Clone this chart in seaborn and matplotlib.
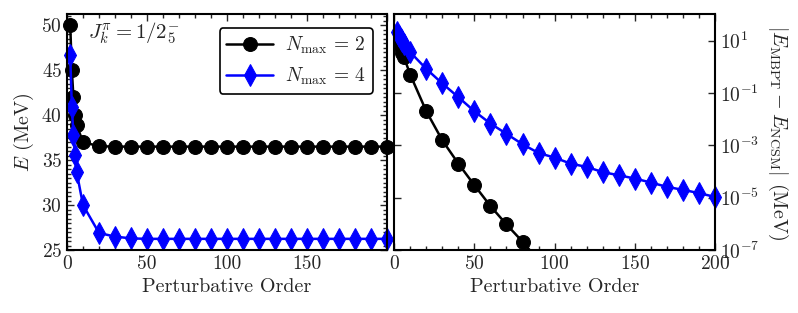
import numpy as np
import pandas as pd
import matplotlib
matplotlib.use('Agg')
import matplotlib.pyplot as plt
import seaborn as sns
from matplotlib.ticker import MultipleLocator, NullLocator, FixedLocator

# perturbative orders
orders = [2, 3, 4, 5, 6, 10, 20, 30, 40, 50, 60, 70, 80, 90, 100, 110, 120,
          130, 140, 150, 160, 170, 180, 190, 200]

# energies (MeV)
e_nmax2 = [50.0, 45.0, 42.0, 40.0, 38.9, 37.0, 36.55, 36.5, 36.5, 36.5, 36.5,
           36.5, 36.5, 36.5, 36.5, 36.5, 36.5, 36.5, 36.5, 36.5, 36.5, 36.5,
           36.5, 36.5, 36.5]
e_nmax4 = [46.7, 40.9, 37.8, 35.6, 33.7, 30.0, 26.9, 26.5, 26.3, 26.25, 26.25,
           26.25, 26.25, 26.25, 26.25, 26.25, 26.25, 26.25, 26.25, 26.25, 26.25,
           26.25, 26.25, 26.25, 26.25]

# |E_MBPT - E_NCSM| (MeV)
orders_d2 = [2, 3, 4, 5, 6, 10, 20, 30, 40, 50, 60, 70, 80, 90]
diff_nmax2 = [13.5, 8.5, 5.5, 3.5, 2.4, 0.5, 2.0e-2, 1.55e-3, 2.0e-4, 3.0e-5,
              4.8e-6, 9.5e-7, 2.1e-7, 4.0e-8]
diff_nmax4 = [20.7, 14.9, 11.8, 9.6, 7.7, 3.6, 0.83, 0.23, 6.9e-2, 2.0e-2,
              6.8e-3, 2.75e-3, 1.1e-3, 5.1e-4, 3.4e-4, 2.0e-4, 1.5e-4, 9.5e-5,
              7.2e-5, 5.4e-5, 3.8e-5, 2.6e-5, 2.0e-5, 1.5e-5, 1.07e-5]

sns.set_style("ticks")
plt.rcParams['font.family'] = ['serif']
plt.rcParams['font.serif'] = ['cmr10', 'DejaVu Serif']
plt.rcParams['mathtext.fontset'] = 'cm'
plt.rcParams['axes.formatter.use_mathtext'] = True
plt.rcParams['font.size'] = 14
plt.rcParams['axes.unicode_minus'] = False

fig = plt.figure(figsize=(7.98, 3.13), dpi=100)
ax1 = fig.add_axes([0.084, 0.201, 0.401, 0.753])
ax2 = fig.add_axes([0.494, 0.201, 0.402, 0.753])

lw = 1.8
df2 = pd.DataFrame({'order': orders, 'E': e_nmax2})
df4 = pd.DataFrame({'order': orders, 'E': e_nmax4})
sns.lineplot(data=df2, x='order', y='E', ax=ax1, color='k', marker='o',
             markersize=10, markeredgecolor='k', linewidth=lw,
             label=r'$N_{\max}\,=\,2$', clip_on=False)
sns.lineplot(data=df4, x='order', y='E', ax=ax1, color='blue', marker='d',
             markersize=11, markeredgecolor='blue', linewidth=lw,
             label=r'$N_{\max}\,=\,4$', clip_on=False)

dd2 = pd.DataFrame({'order': orders_d2, 'd': diff_nmax2})
dd4 = pd.DataFrame({'order': orders, 'd': diff_nmax4})
sns.lineplot(data=dd2, x='order', y='d', ax=ax2, color='k', marker='o',
             markersize=10, markeredgecolor='k', linewidth=lw, legend=False)
sns.lineplot(data=dd4, x='order', y='d', ax=ax2, color='blue', marker='d',
             markersize=11, markeredgecolor='blue', linewidth=lw, legend=False,
             clip_on=False)

# left panel
ax1.set_xlim(0, 200)
ax1.set_ylim(25, 51.2)
ax1.set_xticks([0, 50, 100, 150, 200])
ax1.set_xticklabels(['0', '50', '100', '150', ''])
ax1.xaxis.set_minor_locator(MultipleLocator(10))
ax1.set_yticks([25, 30, 35, 40, 45, 50])
ax1.yaxis.set_minor_locator(MultipleLocator(0.5))
ax1.set_xlabel('Perturbative Order', fontsize=14.5)
ax1.set_ylabel(r'$E$ (MeV)', fontsize=14.5)
ax1.text(0.065, 0.975, r'$J^{\pi}_{k}=1/2^{-}_{5}$', transform=ax1.transAxes,
         ha='left', va='top', fontsize=15)
leg = ax1.legend(loc='upper right', handlelength=2.4, fontsize=14,
                 frameon=True, fancybox=True, borderpad=0.35,
                 handletextpad=0.6, bbox_to_anchor=(0.985, 0.985))
leg.get_frame().set_edgecolor('k')
leg.get_frame().set_linewidth(1.2)
leg.get_frame().set_alpha(1)

# right panel
ax2.set_yscale('log')
ax2.set_xlim(0, 200)
ax2.set_ylim(1e-7, 1e2)
ax2.set_xticks([0, 50, 100, 150, 200])
ax2.xaxis.set_minor_locator(MultipleLocator(10))
ax2.yaxis.set_major_locator(FixedLocator([1e1, 1e-1, 1e-3, 1e-5, 1e-7]))
ax2.yaxis.set_minor_locator(NullLocator())
ax2.set_yticklabels([r'$10^{1}$', r'$10^{-1}$', r'$10^{-3}$', r'$10^{-5}$',
                     r'$10^{-7}$'])
ax2.yaxis.set_label_position('right')
ax2.yaxis.tick_right()
ax2.set_xlabel('Perturbative Order', fontsize=14.5)
ax2.set_ylabel(r'$|E_{\rm MBPT}-E_{\rm NCSM}|$ (MeV)', rotation=270,
               labelpad=22, fontsize=14.5)

for ax in (ax1, ax2):
    ax.tick_params(which='both', direction='in', top=True, bottom=True,
                   left=True, right=True, width=1.0)
    ax.tick_params(which='major', length=5)
    ax.tick_params(which='minor', length=3)
    for s in ax.spines.values():
        s.set_linewidth(1.5)
        s.set_color('k')
ax2.tick_params(axis='y', labelleft=False, labelright=True)

fig.savefig('out.png', dpi=100)
